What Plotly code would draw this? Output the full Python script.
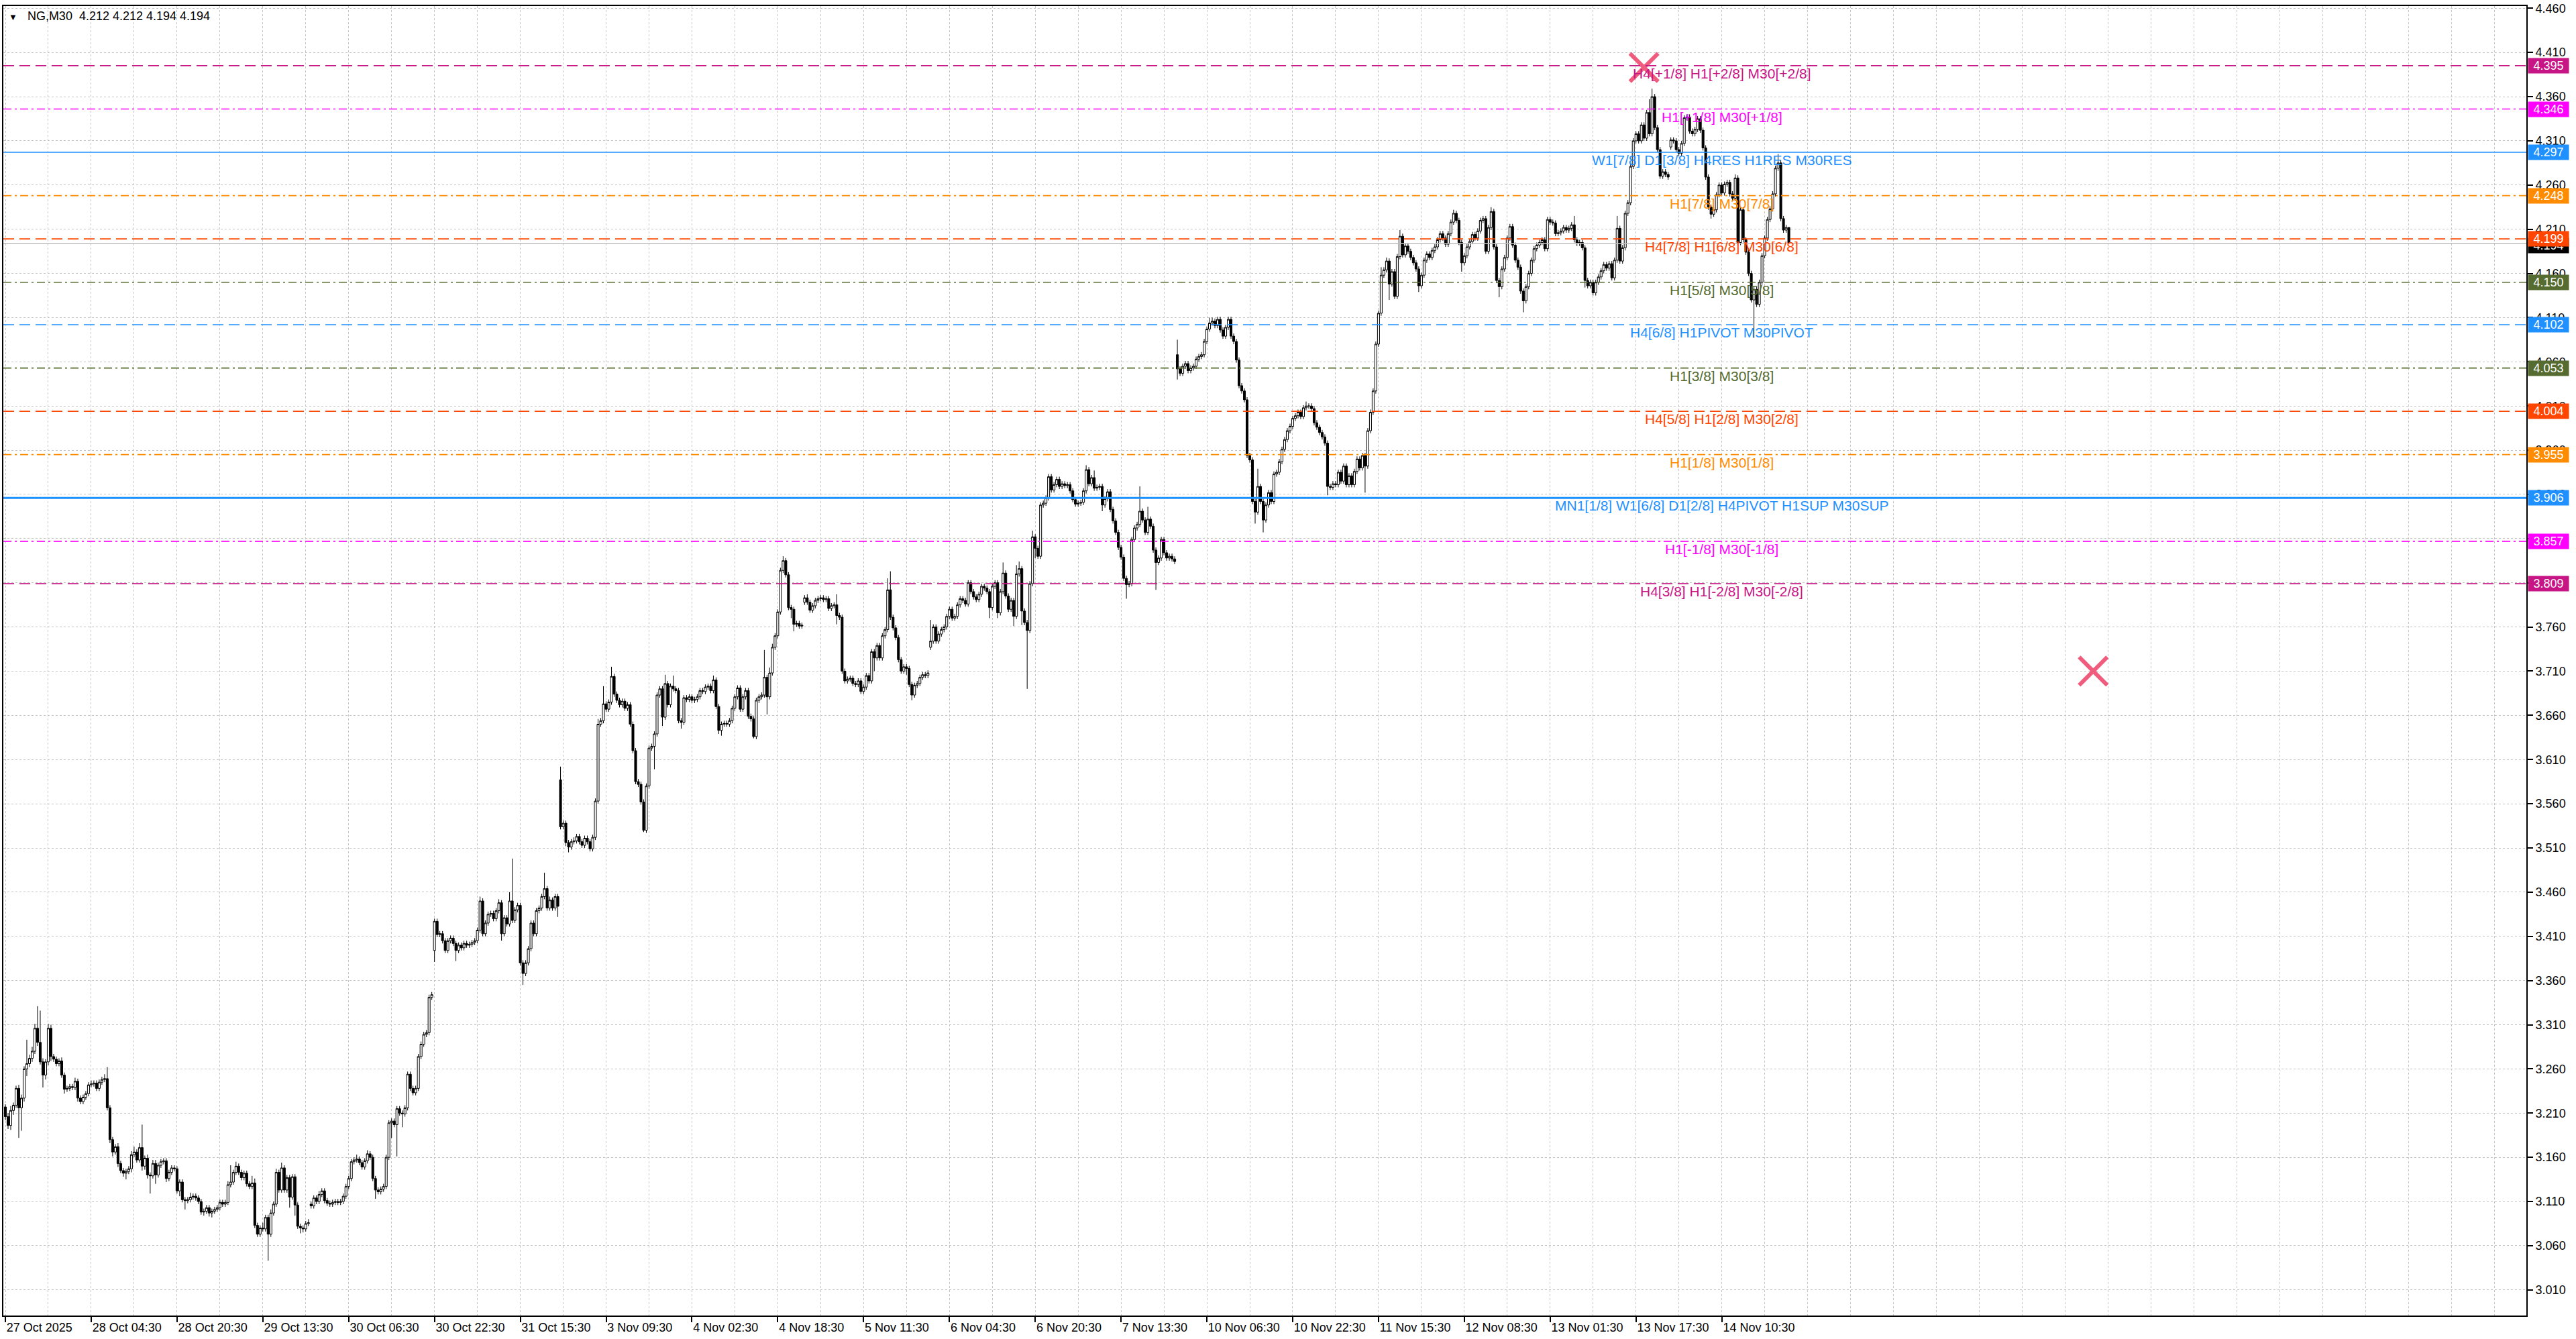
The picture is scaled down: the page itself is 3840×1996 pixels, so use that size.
import plotly.graph_objects as go

# NG, M30 candles (prices in thousandths)
closes = [
    3206, 3196, 3213, 3219, 3238, 3216, 3227, 3260, 3266, 3272, 3280, 3306, 3290, 3268, 3253, 3268, 3306, 3274, 3271, 3266,
    3269, 3253, 3237, 3238, 3240, 3239, 3246, 3227, 3223, 3228, 3232, 3242, 3243, 3244, 3238, 3245, 3248, 3249, 3216, 3180,
    3166, 3172, 3153, 3145, 3142, 3144, 3147, 3163, 3166, 3157, 3171, 3150, 3159, 3140, 3139, 3153, 3140, 3151, 3155, 3156,
    3136, 3143, 3148, 3147, 3122, 3132, 3112, 3111, 3112, 3115, 3116, 3114, 3110, 3098, 3099, 3103, 3097, 3099, 3101, 3103,
    3109, 3107, 3109, 3129, 3132, 3143, 3150, 3143, 3137, 3142, 3130, 3127, 3131, 3083, 3073, 3080, 3079, 3092, 3073, 3097,
    3107, 3143, 3123, 3148, 3123, 3137, 3115, 3138, 3106, 3082, 3080, 3079, 3085, 3086, 3105, 3114, 3110, 3118, 3122, 3111,
    3108, 3107, 3109, 3110, 3109, 3110, 3116, 3127, 3136, 3155, 3157, 3158, 3154, 3149, 3156, 3164, 3160, 3136, 3123, 3121,
    3124, 3127, 3160, 3199, 3201, 3197, 3215, 3210, 3209, 3216, 3254, 3238, 3233, 3238, 3274, 3288, 3299, 3301, 3341, 3344,
    3427, 3412, 3413, 3405, 3394, 3405, 3408, 3402, 3394, 3400, 3397, 3402, 3400, 3401, 3403, 3405, 3417, 3450, 3413, 3425,
    3435, 3436, 3430, 3439, 3448, 3413, 3431, 3424, 3450, 3428, 3440, 3445, 3380, 3368, 3380, 3396, 3425, 3413, 3439, 3442,
    3455, 3464, 3442, 3451, 3442, 3455, 3444, 3534, 3538, 3516, 3511, 3517, 3518, 3523, 3517, 3513, 3521, 3517, 3509, 3522,
    3563, 3650, 3654, 3673, 3667, 3675, 3704, 3684, 3677, 3672, 3676, 3668, 3672, 3650, 3620, 3585, 3582, 3562, 3530, 3580,
    3623, 3625, 3639, 3683, 3690, 3658, 3696, 3672, 3693, 3690, 3688, 3654, 3652, 3680, 3678, 3681, 3677, 3678, 3681, 3688,
    3687, 3692, 3693, 3688, 3700, 3670, 3643, 3650, 3651, 3650, 3654, 3668, 3681, 3691, 3667, 3681, 3688, 3659, 3656, 3636,
    3677, 3681, 3683, 3703, 3681, 3708, 3737, 3750, 3777, 3824, 3835, 3819, 3782, 3780, 3763, 3764, 3761, 3762, 3793, 3788,
    3779, 3784, 3790, 3792, 3793, 3791, 3792, 3781, 3784, 3785, 3773, 3771, 3710, 3699, 3701, 3702, 3696, 3695, 3699, 3687,
    3692, 3705, 3699, 3732, 3725, 3739, 3725, 3750, 3757, 3802, 3771, 3759, 3748, 3723, 3710, 3715, 3713, 3695, 3683, 3694,
    3696, 3703, 3706, 3705, 3708, 3744, 3760, 3744, 3752, 3757, 3760, 3772, 3780, 3770, 3772, 3785, 3792, 3790, 3786, 3810,
    3800, 3794, 3791, 3797, 3806, 3804, 3800, 3782, 3806, 3810, 3776, 3800, 3821, 3795, 3780, 3790, 3772, 3820, 3826, 3778,
    3765, 3756, 3809, 3862, 3849, 3840, 3898, 3900, 3906, 3930, 3915, 3921, 3927, 3919, 3922, 3920, 3921, 3914, 3904, 3899,
    3900, 3901, 3914, 3938, 3922, 3929, 3917, 3918, 3919, 3898, 3905, 3913, 3893, 3880, 3867, 3850, 3839, 3815, 3808, 3809,
    3859, 3872, 3876, 3891, 3881, 3867, 3882, 3874, 3847, 3833, 3838, 3859, 3844, 3838, 3840, 3837, 3834, 4052, 4047, 4055,
    4058, 4050, 4053, 4055, 4063, 4066, 4068, 4083, 4097, 4104, 4106, 4101, 4108, 4096, 4089, 4099, 4108, 4089, 4083, 4062,
    4033, 4027, 4017, 3954, 3949, 3902, 3890, 3919, 3902, 3881, 3898, 3912, 3902, 3933, 3935, 3947, 3961, 3972, 3982, 3987,
    3996, 3999, 4003, 3998, 4008, 4010, 4010, 4007, 3991, 3986, 3980, 3975, 3968, 3919, 3918, 3922, 3921, 3935, 3925, 3942,
    3921, 3931, 3921, 3936, 3950, 3940, 3954, 3942, 3982, 4003, 4027, 4080, 4115, 4158, 4164, 4174, 4148, 4162, 4134, 4179,
    4202, 4181, 4191, 4185, 4178, 4172, 4165, 4146, 4158, 4175, 4182, 4178, 4186, 4190, 4198, 4205, 4200, 4193, 4205, 4218,
    4228, 4220, 4195, 4172, 4180, 4190, 4196, 4204, 4200, 4208, 4220, 4222, 4185, 4212, 4230, 4190, 4152, 4145, 4165, 4178,
    4200, 4213, 4192, 4175, 4167, 4140, 4129, 4145, 4160, 4175, 4188, 4192, 4195, 4198, 4188, 4221, 4218, 4217, 4205, 4206,
    4208, 4212, 4209, 4211, 4215, 4198, 4194, 4195, 4189, 4152, 4146, 4150, 4138, 4150, 4156, 4163, 4170, 4166, 4171, 4155,
    4175, 4211, 4174, 4189, 4228, 4240, 4281, 4310, 4318, 4310, 4328, 4313, 4342, 4318, 4360, 4325, 4300, 4270, 4275, 4272,
    4269, 4311, 4310, 4300, 4296, 4307, 4336, 4337, 4321, 4318, 4323, 4335, 4322, 4302, 4269, 4235, 4227, 4232, 4249, 4260,
    4251, 4261, 4263, 4250, 4245, 4268, 4195, 4232, 4198, 4184, 4160, 4130, 4142, 4125, 4150, 4180, 4200, 4221, 4233, 4250,
    4279, 4285, 4222, 4209, 4212, 4194,
]

# upper and lower shadow lengths per bar (thousandths)
wick_up = [
    3, 4, 5, 3, 3, 4, 4, 3, 27, 4, 5, 5, 25, 36, 4, 3, 5, 4, 3, 3,
    3, 4, 3, 3, 3, 3, 4, 3, 3, 3, 3, 3, 4, 3, 3, 3, 3, 5, 13, 3,
    3, 3, 4, 3, 3, 3, 3, 4, 6, 3, 5, 26, 3, 4, 3, 4, 4, 3, 3, 3,
    3, 3, 3, 3, 3, 3, 3, 3, 3, 5, 3, 3, 3, 3, 3, 3, 3, 3, 3, 3,
    3, 3, 3, 4, 19, 3, 5, 3, 3, 3, 3, 3, 8, 5, 3, 3, 6, 3, 3, 4,
    3, 4, 3, 6, 3, 3, 3, 3, 3, 3, 3, 3, 3, 4, 3, 3, 3, 4, 3, 3,
    3, 3, 3, 3, 3, 3, 3, 3, 3, 3, 3, 5, 3, 3, 3, 4, 3, 3, 3, 3,
    3, 3, 3, 3, 3, 3, 3, 3, 3, 3, 3, 3, 3, 3, 3, 3, 3, 3, 3, 3,
    3, 3, 3, 3, 3, 3, 3, 3, 3, 3, 3, 3, 3, 3, 3, 3, 3, 5, 3, 3,
    3, 3, 3, 3, 4, 3, 3, 3, 10, 48, 3, 3, 3, 3, 3, 3, 3, 3, 3, 3,
    3, 18, 3, 4, 3, 3, 3, 15, 3, 3, 3, 3, 4, 3, 3, 3, 3, 3, 3, 3,
    3, 6, 3, 20, 3, 3, 11, 3, 3, 3, 3, 3, 3, 3, 3, 3, 3, 3, 3, 3,
    3, 3, 3, 3, 3, 3, 10, 3, 3, 12, 3, 3, 3, 3, 3, 3, 3, 3, 3, 3,
    3, 3, 3, 3, 5, 3, 3, 3, 3, 3, 3, 3, 3, 3, 3, 3, 3, 3, 3, 3,
    3, 3, 3, 31, 3, 6, 4, 3, 3, 3, 5, 3, 3, 3, 3, 3, 3, 3, 3, 4,
    3, 3, 3, 3, 3, 3, 3, 3, 3, 3, 12, 3, 3, 3, 3, 3, 3, 3, 3, 3,
    3, 3, 3, 3, 3, 3, 3, 3, 3, 13, 21, 3, 3, 3, 3, 3, 3, 3, 3, 3,
    3, 3, 3, 3, 3, 24, 3, 3, 3, 3, 3, 3, 3, 3, 3, 3, 3, 3, 3, 3,
    3, 3, 3, 3, 3, 3, 3, 3, 3, 3, 3, 3, 12, 3, 3, 3, 3, 10, 8, 3,
    3, 3, 3, 7, 3, 3, 3, 3, 3, 3, 3, 3, 3, 3, 3, 3, 3, 3, 3, 3,
    3, 3, 3, 5, 3, 3, 8, 3, 3, 3, 3, 3, 3, 3, 3, 3, 3, 3, 3, 3,
    3, 3, 3, 28, 3, 3, 14, 3, 3, 3, 3, 3, 3, 3, 3, 3, 3, 17, 3, 3,
    3, 3, 3, 3, 3, 3, 3, 3, 3, 6, 4, 3, 3, 3, 3, 3, 3, 3, 3, 3,
    3, 3, 3, 3, 3, 3, 3, 20, 3, 3, 3, 3, 3, 3, 3, 3, 3, 3, 3, 3,
    3, 3, 3, 3, 3, 5, 3, 3, 3, 3, 3, 3, 3, 3, 3, 3, 3, 3, 3, 3,
    3, 3, 3, 3, 3, 3, 3, 3, 3, 3, 3, 3, 3, 9, 3, 4, 3, 3, 3, 3,
    7, 3, 3, 3, 3, 3, 3, 3, 3, 3, 3, 3, 3, 3, 3, 3, 3, 3, 3, 3,
    4, 3, 3, 3, 3, 3, 3, 3, 3, 3, 3, 3, 3, 3, 5, 3, 3, 3, 3, 3,
    3, 3, 3, 3, 3, 3, 3, 3, 3, 3, 3, 3, 3, 3, 3, 3, 3, 3, 3, 3,
    3, 3, 3, 3, 3, 10, 3, 3, 3, 3, 3, 3, 3, 3, 3, 3, 3, 3, 3, 3,
    3, 14, 3, 3, 3, 3, 3, 3, 3, 3, 3, 3, 3, 15, 9, 3, 3, 3, 3, 3,
    3, 3, 3, 3, 3, 3, 3, 3, 3, 3, 3, 3, 3, 3, 3, 3, 3, 3, 3, 3,
    3, 3, 3, 3, 3, 4, 3, 3, 3, 3, 3, 3, 3, 3, 3, 3, 3, 3, 3, 3,
    3, 10, 3, 3, 3, 0,
]

wick_dn = [
    4, 4, 5, 5, 3, 34, 26, 4, 8, 4, 4, 3, 4, 3, 14, 5, 4, 5, 3, 3,
    3, 3, 5, 3, 3, 3, 3, 4, 3, 3, 3, 3, 3, 3, 3, 3, 3, 3, 3, 4,
    5, 3, 4, 3, 4, 7, 3, 4, 3, 3, 3, 5, 4, 4, 20, 3, 10, 3, 3, 3,
    4, 3, 3, 3, 3, 6, 3, 10, 3, 3, 3, 3, 3, 3, 4, 3, 4, 5, 3, 3,
    3, 3, 3, 3, 3, 3, 3, 3, 3, 3, 3, 3, 3, 3, 3, 3, 3, 3, 30, 3,
    3, 3, 3, 3, 3, 3, 12, 3, 12, 3, 6, 4, 3, 3, 3, 3, 3, 3, 3, 3,
    3, 3, 3, 3, 3, 3, 3, 3, 3, 3, 3, 3, 3, 3, 3, 3, 3, 3, 10, 3,
    3, 3, 3, 3, 17, 3, 36, 3, 15, 3, 3, 3, 3, 3, 3, 3, 3, 3, 3, 3,
    13, 3, 3, 3, 3, 3, 3, 3, 12, 3, 3, 3, 3, 3, 3, 3, 3, 3, 3, 3,
    3, 3, 3, 3, 3, 8, 3, 3, 3, 3, 3, 3, 3, 13, 3, 3, 3, 3, 3, 3,
    3, 3, 3, 3, 3, 3, 12, 3, 3, 4, 6, 3, 3, 3, 3, 3, 3, 3, 3, 3,
    3, 3, 3, 3, 3, 3, 3, 3, 3, 3, 3, 3, 3, 3, 3, 3, 3, 3, 2, 3,
    3, 3, 26, 3, 3, 10, 3, 3, 3, 3, 3, 3, 7, 3, 3, 3, 3, 3, 3, 3,
    3, 3, 3, 3, 3, 3, 4, 6, 3, 3, 3, 3, 3, 3, 3, 3, 3, 3, 3, 2,
    3, 3, 3, 3, 20, 3, 3, 3, 3, 3, 3, 3, 3, 10, 8, 3, 3, 3, 3, 3,
    3, 3, 3, 3, 3, 3, 3, 3, 3, 3, 10, 3, 3, 3, 3, 3, 3, 3, 3, 3,
    3, 3, 3, 3, 15, 3, 3, 3, 3, 3, 3, 3, 3, 3, 3, 3, 7, 3, 6, 3,
    3, 3, 3, 3, 3, 3, 3, 3, 3, 3, 3, 3, 3, 3, 3, 3, 3, 3, 3, 3,
    3, 3, 3, 3, 3, 3, 3, 12, 3, 3, 6, 3, 3, 3, 3, 3, 11, 3, 3, 16,
    3, 66, 3, 3, 11, 3, 3, 3, 3, 3, 3, 3, 3, 3, 3, 3, 3, 3, 3, 3,
    3, 3, 3, 3, 3, 3, 3, 3, 3, 7, 3, 3, 3, 3, 3, 3, 3, 3, 16, 3,
    3, 3, 3, 3, 3, 3, 3, 3, 3, 31, 3, 3, 3, 3, 3, 3, 3, 12, 3, 3,
    3, 3, 3, 3, 3, 3, 3, 3, 3, 3, 3, 3, 3, 3, 3, 3, 3, 3, 3, 3,
    3, 3, 3, 3, 3, 3, 13, 3, 3, 14, 3, 3, 3, 3, 3, 3, 3, 3, 3, 3,
    3, 3, 3, 3, 3, 3, 3, 3, 3, 3, 3, 3, 3, 10, 3, 3, 3, 3, 3, 3,
    3, 3, 3, 3, 3, 3, 3, 30, 3, 3, 3, 3, 3, 3, 3, 3, 18, 3, 3, 3,
    3, 3, 3, 3, 3, 3, 3, 7, 3, 3, 3, 3, 3, 3, 3, 3, 3, 3, 3, 3,
    3, 3, 3, 10, 3, 3, 3, 3, 3, 3, 3, 3, 3, 3, 3, 3, 3, 12, 3, 3,
    3, 3, 3, 3, 3, 3, 13, 3, 3, 3, 3, 3, 3, 3, 3, 3, 3, 3, 3, 3,
    3, 3, 3, 3, 3, 3, 3, 3, 3, 8, 3, 3, 3, 3, 3, 3, 3, 3, 3, 3,
    3, 3, 3, 3, 3, 3, 3, 3, 3, 3, 3, 3, 3, 3, 3, 3, 3, 3, 3, 3,
    3, 3, 3, 3, 3, 3, 3, 3, 3, 3, 3, 3, 3, 3, 3, 3, 5, 3, 3, 3,
    3, 3, 3, 3, 3, 3, 3, 3, 3, 3, 3, 3, 43, 3, 3, 3, 3, 3, 3, 3,
    3, 3, 3, 3, 3, 0,
]

# bars that open away from the previous close (session / weekend gaps)
gap_opens = {0: 3217, 114: 3107, 160: 3394, 207: 3587, 298: 3788, 345: 3737, 437: 4068, 621: 4303}

time_labels = [
    "27 Oct 2025", "28 Oct 04:30", "28 Oct 20:30", "29 Oct 13:30", "30 Oct 06:30", "30 Oct 22:30",
    "31 Oct 15:30", "3 Nov 09:30", "4 Nov 02:30", "4 Nov 18:30", "5 Nov 11:30", "6 Nov 04:30",
    "6 Nov 20:30", "7 Nov 13:30", "10 Nov 06:30", "10 Nov 22:30", "11 Nov 15:30", "12 Nov 08:30",
    "13 Nov 01:30", "13 Nov 17:30", "14 Nov 10:30",
]
bars_per_label = 32

# Murrey math levels
levels = [4.395, 4.346, 4.297, 4.248, 4.199, 4.150, 4.102, 4.053, 4.004, 3.955, 3.906, 3.857, 3.809]
level_names = [
    "H4[+1/8] H1[+2/8] M30[+2/8]",
    "H1[+1/8] M30[+1/8]",
    "W1[7/8] D1[3/8] H4RES H1RES M30RES",
    "H1[7/8] M30[7/8]",
    "H4[7/8] H1[6/8] M30[6/8]",
    "H1[5/8] M30[5/8]",
    "H4[6/8] H1PIVOT M30PIVOT",
    "H1[3/8] M30[3/8]",
    "H4[5/8] H1[2/8] M30[2/8]",
    "H1[1/8] M30[1/8]",
    "MN1[1/8] W1[6/8] D1[2/8] H4PIVOT H1SUP M30SUP",
    "H1[-1/8] M30[-1/8]",
    "H4[3/8] H1[-2/8] M30[-2/8]",
]
bid = 4.194

# the two cross marks drawn on the chart (bar index, price)
cross_bars = [611, 778.5]
cross_prices = [4.393, 3.710]

# styles
level_colors = ["#C71585", "#FF00FF", "#1E90FF", "#FF8C00", "#FF4500", "#556B2F", "#1E90FF",
                "#556B2F", "#FF4500", "#FF8C00", "#1E90FF", "#FF00FF", "#C71585"]
DASH = "16px,8px"
DASHDOT = "12px,5px,3px,5px"
level_dash = [DASH, DASHDOT, "solid", DASHDOT, DASH, DASHDOT, DASH, DASHDOT, DASH, DASHDOT, "solid", DASHDOT, DASH]
level_width = [1.7, 1.7, 1.6, 1.7, 1.7, 1.7, 1.7, 1.7, 1.7, 1.7, 3, 1.7, 1.7]
FONT = "Liberation Sans, Arial, sans-serif"
GRID = "#C4C4C4"

# build OHLC
opens, highs, lows = [], [], []
prev = None
for i, c in enumerate(closes):
    o = gap_opens.get(i, prev)
    opens.append(o)
    highs.append(max(o, c) + wick_up[i])
    lows.append(min(o, c) - wick_dn[i])
    prev = c
to_px = lambda v: [x / 1000 for x in v]
o_, h_, l_, c_ = to_px(opens), to_px(highs), to_px(lows), to_px(closes)
bars = list(range(len(closes)))

fig = go.Figure()
fig.add_trace(go.Candlestick(
    x=bars, open=o_, high=h_, low=l_, close=c_,
    increasing=dict(line=dict(color="black", width=1), fillcolor="white"),
    decreasing=dict(line=dict(color="black", width=1), fillcolor="black"),
    whiskerwidth=0, hoverinfo="skip", showlegend=False,
))
fig.add_trace(go.Scatter(
    x=cross_bars, y=cross_prices, mode="markers", hoverinfo="skip", showlegend=False,
    marker=dict(symbol="x-thin", size=42, color="rgba(236,64,102,0.85)",
                line=dict(width=6, color="rgba(236,64,102,0.85)")),
))

shapes = []
annotations = []
shapes.append(dict(type="line", xref="paper", x0=0, x1=1, yref="y", y0=bid, y1=bid,
                   line=dict(color="#BEBEBE", width=1.5)))
for lv, name, col, dsh, w in zip(levels, level_names, level_colors, level_dash, level_width):
    shapes.append(dict(type="line", xref="paper", x0=0, x1=1, yref="y", y0=lv, y1=lv,
                       line=dict(color=col, width=w, dash=dsh)))
    annotations.append(dict(x=20 * bars_per_label, y=lv, xref="x", yref="y", text=name,
                            showarrow=False, xanchor="center", yanchor="top", yshift=2,
                            font=dict(family=FONT, size=21, color=col)))

# price boxes on the scale
annotations.append(dict(x=1, y=bid, xref="paper", yref="y", text=f"{bid:.3f}", showarrow=False,
                        xanchor="left", yanchor="middle", xshift=2, yshift=-3, width=58, height=20,
                        bgcolor="black", borderpad=1, font=dict(family=FONT, size=18, color="white")))
for lv, col in zip(levels, level_colors):
    annotations.append(dict(x=1, y=lv, xref="paper", yref="y", text=f"{lv:.3f}", showarrow=False,
                            xanchor="left", yanchor="middle", xshift=2, width=58, height=20,
                            bgcolor=col, borderpad=1, font=dict(family=FONT, size=18, color="white")))

header = (f"<span style='font-size:13px'>\u25bc</span>\u00a0\u00a0\u00a0NG,M30\u00a0\u00a0"
          f"{o_[-1]:.3f} {h_[-1]:.3f} {l_[-1]:.3f} {c_[-1]:.3f}")
annotations.append(dict(x=0, y=1, xref="paper", yref="paper", text=header, showarrow=False,
                        xanchor="left", yanchor="top", xshift=6, yshift=-3,
                        font=dict(family=FONT, size=18, color="black")))

tick_bars = [k * bars_per_label for k in range(len(time_labels))]

fig.update_layout(
    width=3840, height=1996,
    margin=dict(l=3, r=74, t=3, b=35),
    paper_bgcolor="white", plot_bgcolor="white",
    boxgap=0.2, boxgroupgap=0.05,
    shapes=shapes, annotations=annotations,
    showlegend=False,
)
fig.update_xaxes(
    range=[-0.75, 940], rangeslider_visible=False,
    tickmode="array", tickvals=tick_bars, ticktext=time_labels,
    ticklabelposition="outside right", ticks="outside", ticklen=8, tickcolor="black", tickwidth=1.5,
    tickfont=dict(family=FONT, size=18, color="black"),
    showgrid=True, gridcolor=GRID, griddash="3px,3px", gridwidth=1,
    minor=dict(tickmode="linear", tick0=0, dtick=bars_per_label // 2, showgrid=True,
               gridcolor=GRID, griddash="3px,3px", gridwidth=1, ticks=""),
    showline=True, linecolor="black", linewidth=2, mirror=True, zeroline=False,
)
fig.update_yaxes(
    side="right", range=[2.981, 4.4625],
    tickmode="linear", tick0=3.010, dtick=0.05, tickformat=".3f",
    ticks="outside", ticklen=8, tickcolor="black", tickwidth=1.5, ticklabeloverflow="allow",
    tickfont=dict(family=FONT, size=18, color="black"),
    showgrid=True, gridcolor=GRID, griddash="3px,3px", gridwidth=1,
    showline=True, linecolor="black", linewidth=2, mirror=True, zeroline=False,
)

fig.write_html("out.html", config={"displayModeBar": False},
               post_script="document.body.style.margin='0';")
